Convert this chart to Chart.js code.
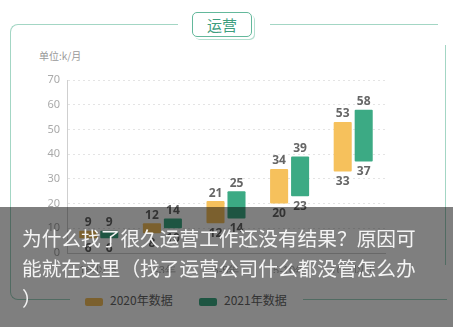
<!DOCTYPE html>
<html>
<head>
<meta charset="utf-8">
<script src="https://cdn.jsdelivr.net/npm/chart.js@4"></script>
<style>
  html, body { margin: 0; padding: 0; background: #fff; }
  body { width: 453px; height: 327px; position: relative; overflow: hidden; font-family: "Noto Sans CJK SC", "Noto Sans", sans-serif; }
  .abs { position: absolute; }
  .frame { left: 10px; top: 24px; width: 436px; height: 274px; border: 1.5px solid #a3d6c4; border-right: none; border-radius: 8px 0 0 8px; }
  .right-line { left: 445px; top: 45px; height: 220px; border-left: 1.5px solid #a3d6c4; }
  .mask { background: #fff; }
  .title { left: 192px; top: 12px; width: 58px; height: 23px; border: 1.5px solid #63b89b; border-radius: 5px; background: #fff;
           box-shadow: 2px 2px 0 0 #fff, 3px 3px 0 0 #b5dfd0; color: #3d9e7e; font-size: 15px; text-align: center; line-height: 23px; }
  .unit { left: 39px; top: 48px; font-size: 10px; color: #999; }
  .legend { top: 293px; height: 14px; font-size: 12px; color: #666; line-height: 14px; white-space: nowrap; }
  .swatch { display: inline-block; width: 18px; height: 8px; border-radius: 2px; vertical-align: middle; margin-right: 7px; }
  .overlay { left: 0; top: 207px; width: 453px; height: 120px; background: rgba(0,0,0,0.5); }
  .caption { left: 22px; top: 223px; width: 410px; color: #f4f4f4; font-size: 19.7px; line-height: 30px; }
  canvas { position: absolute; left: 0; top: 0; }
</style>
</head>
<body>
<div class="abs frame"></div>
<div class="abs right-line"></div>
<div class="abs mask" style="left:178px; top:20px; width:92px; height:10px;"></div>
<div class="abs mask" style="left:438px; top:20px; width:12px; height:10px;"></div>
<div class="abs mask" style="left:70px; top:294px; width:233px; height:10px;"></div>
<div class="abs title">运营</div>
<div class="abs unit">单位:k/月</div>
<div class="abs legend" style="left:85px;"><span class="swatch" style="background:#f6c15c"></span>2020年数据</div>
<div class="abs legend" style="left:199px;"><span class="swatch" style="background:#3caa84"></span>2021年数据</div>
<canvas id="rangeChart" width="453" height="327"></canvas>
<div class="abs overlay"></div>
<div class="abs caption">为什么找了很久运营工作还没有结果？原因可能就在这里（找了运营公司什么都没管怎么办<br>）</div>

<script>
// 运营 salary ranges, k/月
const categories = ['1年以下', '1-3年', '3-5年', '5-10年', '10年以上'];
const low2020 = [6, 8, 12, 20, 33];
const high2020 = [9, 12, 21, 34, 53];
const low2021 = [6, 10, 14, 23, 37];
const high2021 = [9, 14, 25, 39, 58];
const yTicks = [0, 10, 20, 30, 40, 50, 60, 70];

const toRange = (lo, hi) => lo.map((v, i) => [v, hi[i]]);

// value labels above and below each floating bar
const rangeLabels = {
    id: 'rangeLabels',
    afterDatasetsDraw(chart) {
        const ctx = chart.ctx;
        ctx.save();
        ctx.font = 'bold 12px "Noto Sans", sans-serif';
        ctx.fillStyle = '#666';
        ctx.textAlign = 'center';
        chart.data.datasets.forEach((ds, i) => {
            chart.getDatasetMeta(i).data.forEach((bar, j) => {
                const [lo, hi] = ds.data[j];
                const top = Math.min(bar.y, bar.base);
                const bottom = Math.max(bar.y, bar.base);
                ctx.textBaseline = 'bottom';
                ctx.fillText(hi, bar.x, top - 2);
                ctx.textBaseline = 'top';
                ctx.fillText(lo, bar.x, bottom + 4);
            });
        });
        ctx.restore();
    }
};

const ctx = document.getElementById('rangeChart').getContext('2d');
new Chart(ctx, {
    type: 'bar',
    data: {
        labels: categories,
        datasets: [
            {
                label: '2020年数据',
                data: toRange(low2020, high2020),
                backgroundColor: '#f6c15c',
                borderRadius: 1,
                borderSkipped: false
            },
            {
                label: '2021年数据',
                data: toRange(low2021, high2021),
                backgroundColor: '#3caa84',
                borderRadius: 1,
                borderSkipped: false
            }
        ]
    },
    options: {
        responsive: false,
        animation: false,
        layout: { padding: { left: 0, right: 68, top: 80, bottom: 54 } },
        plugins: {
            legend: { display: false },
            tooltip: { enabled: false }
        },
        datasets: {
            bar: { categoryPercentage: 0.66, barPercentage: 0.86 }
        },
        scales: {
            x: {
                grid: { display: false },
                border: { color: '#d0d0d0' },
                ticks: { color: '#aaa', font: { size: 11 }, maxRotation: 0 },
                afterFit(scale) { scale.height = 20; }
            },
            y: {
                min: 0,
                max: 70,
                afterBuildTicks(scale) { scale.ticks = yTicks.map(v => ({ value: v })); },
                grid: { color: '#e4e4e4', drawTicks: false },
                border: { color: '#cfcfcf', dash: [2, 3] },
                ticks: { color: '#aaa', padding: 7, font: { size: 11, family: '"Noto Sans", sans-serif' } },
                afterFit(scale) { scale.width = 67; }
            }
        }
    },
    plugins: [rangeLabels]
});
</script>
</body>
</html>
